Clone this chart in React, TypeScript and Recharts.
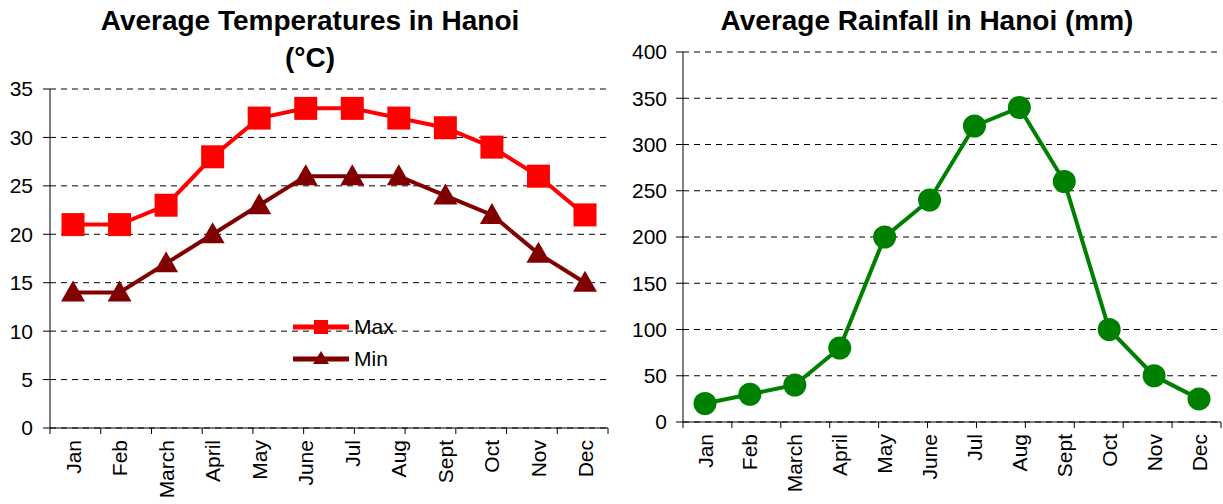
import React from 'react';
import { LineChart, Line, XAxis, YAxis, CartesianGrid, Legend } from 'recharts';

const months = ['Jan', 'Feb', 'March', 'April', 'May', 'June', 'Jul', 'Aug', 'Sept', 'Oct', 'Nov', 'Dec'];
const maxTemps = [21, 21, 23, 28, 32, 33, 33, 32, 31, 29, 26, 22];
const minTemps = [14, 14, 17, 20, 23, 26, 26, 26, 24, 22, 18, 15];
const rainfall = [20, 30, 40, 80, 200, 240, 320, 340, 260, 100, 50, 25];

const tempTicks = [0, 5, 10, 15, 20, 25, 30, 35];
const rainTicks = [0, 50, 100, 150, 200, 250, 300, 350, 400];
const boundaryTicks = [0, 1, 2, 3, 4, 5, 6, 7, 8, 9, 10, 11, 12];

const tempData = months.map((month, i) => ({ month, max: maxTemps[i], min: minTemps[i] }));
const rainData = months.map((month, i) => ({ month, rain: rainfall[i] }));

const FONT = '"Liberation Sans", Arial, sans-serif';
const MAX_COLOR = '#ff0000';
const MIN_COLOR = '#800000';
const RAIN_COLOR = '#008000';

const SquareDot = (props: any) => {
  const { cx, cy, fill, index } = props;
  if (cx == null || cy == null) return null;
  return <rect key={`sq-${index}`} x={cx - 11.5} y={cy - 11.5} width={23} height={23} fill={fill} />;
};

const TriangleDot = (props: any) => {
  const { cx, cy, fill, index } = props;
  if (cx == null || cy == null) return null;
  return (
    <path
      key={`tr-${index}`}
      d={`M${cx},${cy - 12} L${cx + 12},${cy + 9} L${cx - 12},${cy + 9} Z`}
      fill={fill}
    />
  );
};

const CircleDot = (props: any) => {
  const { cx, cy, fill, index } = props;
  if (cx == null || cy == null) return null;
  return <circle key={`c-${index}`} cx={cx} cy={cy} r={11.5} fill={fill} />;
};

const VerticalTick = (props: any) => {
  const { x, y, payload } = props;
  return (
    <text
      x={x}
      y={y}
      transform={`rotate(-90 ${x} ${y})`}
      textAnchor="end"
      dominantBaseline="central"
      fontSize={21}
      fontFamily={FONT}
      fill="#000"
    >
      {payload.value}
    </text>
  );
};

// boundary axis only shows tick marks, no labels
const EmptyTick = () => <g />;

const TempLegend = () => {
  const rows = [
    { name: 'Max', color: MAX_COLOR, shape: 'square' },
    { name: 'Min', color: MIN_COLOR, shape: 'triangle' },
  ];
  return (
    <div>
      {rows.map((r) => (
        <div key={r.name} style={{ display: 'flex', alignItems: 'center', height: 32 }}>
          <svg width={58} height={20}>
            <line x1={1} y1={10} x2={57} y2={10} stroke={r.color} strokeWidth={5} />
            {r.shape === 'square' ? (
              <rect x={22} y={3} width={14} height={14} fill={r.color} />
            ) : (
              <path d="M29,2 L37,15 L21,15 Z" fill={r.color} />
            )}
          </svg>
          <span style={{ fontFamily: FONT, fontSize: 21, marginLeft: 4, color: '#000' }}>{r.name}</span>
        </div>
      ))}
    </div>
  );
};

const tickStyle = { fontSize: 21, fontFamily: FONT, fill: '#000' };

const titleStyle: React.CSSProperties = {
  position: 'absolute',
  top: 2,
  textAlign: 'center',
  fontFamily: FONT,
  fontWeight: 'bold',
  fontSize: 28,
  lineHeight: '37px',
};

export default function App() {
  return (
    <div style={{ position: 'absolute', left: 0, top: 0, width: 1223, height: 504, background: '#fff' }}>
      <div style={{ ...titleStyle, left: 0, width: 620 }}>
        Average Temperatures in Hanoi
        <br />
        (°C)
      </div>
      <div style={{ ...titleStyle, left: 612, width: 630 }}>Average Rainfall in Hanoi (mm)</div>

      <div style={{ position: 'absolute', left: 0, top: 0 }}>
        <LineChart width={612} height={504} data={tempData} margin={{ top: 89, right: 4, left: 0, bottom: 0 }}>
          <CartesianGrid xAxisId="labels" vertical={false} stroke="#000" strokeDasharray="6 5" />
          <XAxis
            xAxisId="bounds"
            type="number"
            domain={[0, 12]}
            ticks={boundaryTicks}
            allowDataOverflow
            interval={0}
            height={1}
            tick={<EmptyTick />}
            tickSize={6}
            tickLine={{ stroke: '#000' }}
            axisLine={{ stroke: '#000' }}
          />
          <XAxis
            xAxisId="labels"
            dataKey="month"
            height={75}
            padding={{ left: 23, right: 23 }}
            interval={0}
            tickLine={false}
            axisLine={false}
            tickSize={6}
            tickMargin={5}
            tick={<VerticalTick />}
          />
          <YAxis
            width={50}
            domain={[0, 35]}
            ticks={tempTicks}
            interval={0}
            tickSize={7}
            tickMargin={10}
            tick={tickStyle}
            tickLine={{ stroke: '#000' }}
            axisLine={{ stroke: '#000' }}
          />
          <Legend
            layout="vertical"
            align="center"
            verticalAlign="middle"
            wrapperStyle={{ left: 292, top: 311, width: 120 }}
            content={() => <TempLegend />}
          />
          <Line
            xAxisId="labels"
            name="Max"
            dataKey="max"
            stroke={MAX_COLOR}
            fill={MAX_COLOR}
            strokeWidth={4}
            dot={<SquareDot />}
            activeDot={false}
            isAnimationActive={false}
          />
          <Line
            xAxisId="labels"
            name="Min"
            dataKey="min"
            stroke={MIN_COLOR}
            fill={MIN_COLOR}
            strokeWidth={4}
            dot={<TriangleDot />}
            activeDot={false}
            isAnimationActive={false}
          />
        </LineChart>
      </div>

      <div style={{ position: 'absolute', left: 612, top: 0 }}>
        <LineChart width={611} height={504} data={rainData} margin={{ top: 52, right: 2, left: 0, bottom: 0 }}>
          <CartesianGrid xAxisId="labels" vertical={false} stroke="#000" strokeDasharray="6 5" />
          <XAxis
            xAxisId="bounds"
            type="number"
            domain={[0, 12]}
            ticks={boundaryTicks}
            allowDataOverflow
            interval={0}
            height={1}
            tick={<EmptyTick />}
            tickSize={6}
            tickLine={{ stroke: '#000' }}
            axisLine={{ stroke: '#000' }}
          />
          <XAxis
            xAxisId="labels"
            dataKey="month"
            height={81}
            padding={{ left: 22, right: 22 }}
            interval={0}
            tickLine={false}
            axisLine={false}
            tickSize={6}
            tickMargin={5}
            tick={<VerticalTick />}
          />
          <YAxis
            width={71}
            domain={[0, 400]}
            ticks={rainTicks}
            interval={0}
            tickSize={7}
            tickMargin={9}
            tick={tickStyle}
            tickLine={{ stroke: '#000' }}
            axisLine={{ stroke: '#000' }}
          />
          <Line
            xAxisId="labels"
            name="Rainfall"
            dataKey="rain"
            stroke={RAIN_COLOR}
            fill={RAIN_COLOR}
            strokeWidth={4}
            dot={<CircleDot />}
            activeDot={false}
            isAnimationActive={false}
          />
        </LineChart>
      </div>
    </div>
  );
}
